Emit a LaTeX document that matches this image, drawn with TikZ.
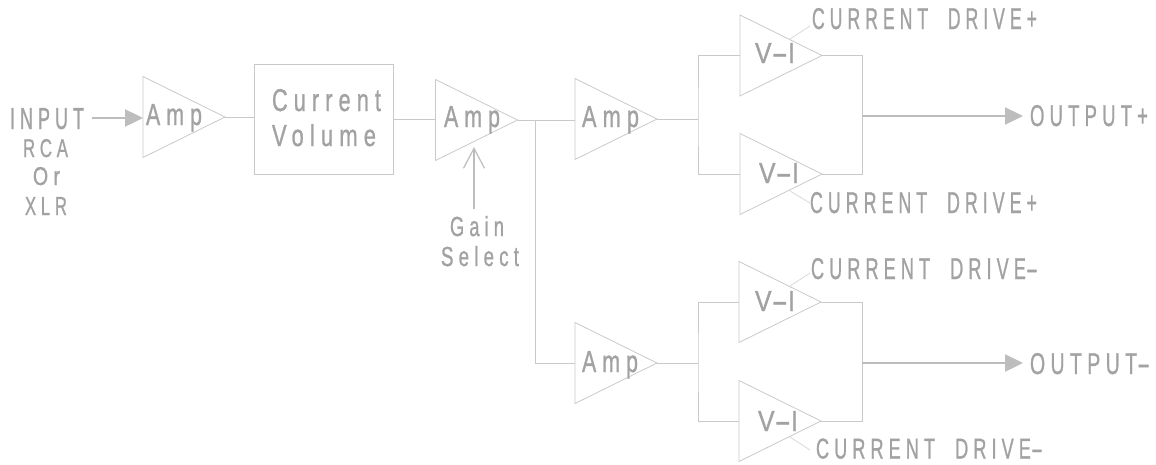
\documentclass[tikz,border=0pt]{standalone}
\usepackage{fontspec}
\usepackage{graphicx}
\usetikzlibrary{arrows.meta,shapes.geometric,calc}
\setmainfont{Liberation Sans}
\newfontfamily\lblfont[LetterSpace=28,FakeBold=1.2]{Liberation Sans}
\definecolor{wire}{HTML}{C9C9C9}
\definecolor{heavy}{HTML}{BDBDBD}
\definecolor{ink}{HTML}{A2A2A2}
\definecolor{faint}{HTML}{DADADA}
\newcommand\fit[3]{\resizebox{#1pt}{#2pt}{\fontsize{20}{24}\lblfont #3}}
\newcommand\dsh{\scalebox{2}[1]{-}}
\newcommand\gap{ \hspace{0.55em}}
\tikzset{
  x=1pt,y=-1pt,
  wireline/.style={draw=wire,line width=1pt},
  amptri/.style={shape=isosceles triangle,isosceles triangle stretches,shape border rotate=0,
    draw=wire,line width=0.8pt,inner sep=0pt,outer sep=0pt,anchor=apex,
    minimum height=#1,minimum width=81pt},
  amptri/.default=82pt,
  volbox/.style={draw=wire,line width=1pt,inner sep=0pt,outer sep=0pt,minimum width=139pt,minimum height=110pt},
  lbl/.style={text=ink,inner sep=0pt,outer sep=0pt,anchor=base west},
  heavyarrow/.style={draw=heavy,line width=2.4pt,-{Triangle[length=18pt,width=17pt,fill=heavy]}},
  gainarrow/.style={draw=heavy,line width=1.6pt,-{Straight Barb[length=20pt,width=21pt,line width=1.2pt]}},
  leader/.style={draw=faint,line width=0.8pt},
}
\begin{document}
\begin{tikzpicture}
\useasboundingbox (0,0) rectangle (1156,464);
% blocks
\node[amptri] (a1) at (225,117) {};
\node[volbox] (vol) at (323.5,119) {};
\node[amptri] (a2) at (517.5,120) {};
\node[amptri] (a3) at (657,119) {};
\node[amptri] (a4) at (657,363) {};
\node[amptri] (v1) at (822,55.5) {};
\node[amptri] (v2) at (822,174) {};
\node[amptri] (v3) at (821,302) {};
\node[amptri] (v4) at (821,421) {};
% labels
\node[lbl] (tin) at (10,129) {\fit{74}{21}{INPUT}};
\node[lbl] (trca) at (23,157) {\fit{45}{18}{RCA}};
\node[lbl] (tor) at (33,185) {\fit{27}{18}{Or}};
\node[lbl] (txlr) at (25,215) {\fit{42}{18}{XLR}};
\node[lbl] (ta1) at (146,125) {\fit{56}{21}{Amp}};
\node[lbl] (tcur) at (272,111) {\fit{109}{22}{Current}};
\node[lbl] (tvol) at (272,146) {\fit{104}{22}{Volume}};
\node[lbl] (ta2) at (444,127) {\fit{56}{21}{Amp}};
\node[lbl] (ta3) at (582,127) {\fit{57}{21}{Amp}};
\node[lbl] (ta4) at (582,372) {\fit{56}{21}{Amp}};
\node[lbl] (tgain) at (450,236) {\fit{54}{20}{Gain}};
\node[lbl] (tsel) at (441,266) {\fit{78}{20}{Select}};
\node[lbl] (tv1) at (755,63) {\fit{40}{20}{V\dsh I}};
\node[lbl] (tv2) at (759,183) {\fit{40}{20}{V\dsh I}};
\node[lbl] (tv3) at (755,311) {\fit{40}{20}{V\dsh I}};
\node[lbl] (tv4) at (758,431) {\fit{40}{20}{V\dsh I}};
\node[lbl] (cd1) at (812,29) {\fit{225}{21}{CURRENT\gap DRIVE+}};
\node[lbl] (cd2) at (810,213) {\fit{227}{21}{CURRENT\gap DRIVE+}};
\node[lbl] (cd3) at (811,279) {\fit{227}{21}{CURRENT\gap DRIVE\dsh}};
\node[lbl] (cd4) at (816,458.5) {\fit{227}{20}{CURRENT\gap DRIVE\dsh}};
\node[lbl] (op) at (1030,126) {\fit{118}{21}{OUTPUT+}};
\node[lbl] (om) at (1030,374) {\fit{120}{21}{OUTPUT\dsh}};
% free ends and junctions
\coordinate (instart) at (92,118);
\coordinate (gstart) at (474,209);
\coordinate (gend) at (474,147);
\coordinate (j) at (535,119.5);
\coordinate (bus1) at (698,119);
\coordinate (bus2) at (698,363);
\coordinate (r1) at (862,116);
\coordinate (r2) at (862,363);
\coordinate (o1) at (1023,116);
\coordinate (o2) at (1023,363);
\coordinate (l1a) at (790,39);  \coordinate (l1b) at (810,26);
\coordinate (l2a) at (790,191); \coordinate (l2b) at (810,203);
\coordinate (l3a) at (790,286); \coordinate (l3b) at (810,273);
\coordinate (l4a) at (790,437); \coordinate (l4b) at (810,450);
% connectors
\draw[heavyarrow] (instart) -- (instart -| a1.lower side);
\draw[wireline] (a1.apex) -- (a1.apex -| vol.west);
\draw[wireline] (vol.east) -- (vol.east -| a2.lower side);
\draw[wireline] (a2.apex) -- (a2.apex -| a3.lower side);
\draw[wireline] (j) |- (a4.lower side);
\draw[gainarrow] (gstart) -- (gend);
\draw[wireline] (a3.apex) -- (bus1);
\draw[wireline] (v1.lower side) -| (bus1) |- (v2.lower side);
\draw[wireline] (v1.apex) -| (r1) |- (v2.apex);
\draw[heavyarrow] (r1) -- (o1);
\draw[wireline] (a4.apex) -- (bus2);
\draw[wireline] (v3.lower side) -| (bus2) |- (v4.lower side);
\draw[wireline] (v3.apex) -| (r2) |- (v4.apex);
\draw[heavyarrow] (r2) -- (o2);
\draw[leader] (l1a) -- (l1b);
\draw[leader] (l2a) -- (l2b);
\draw[leader] (l3a) -- (l3b);
\draw[leader] (l4a) -- (l4b);
\end{tikzpicture}
\end{document}
